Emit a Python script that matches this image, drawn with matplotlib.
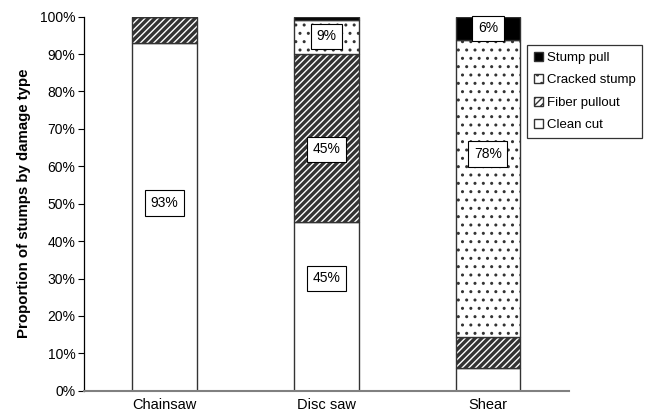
import matplotlib
matplotlib.use("Agg")
import matplotlib.pyplot as plt
import numpy as np

plt.rcParams['font.family'] = ['Liberation Sans', 'DejaVu Sans']
plt.rcParams['hatch.color'] = 'black'

# Damage-type shares (percent) per cutting method
methods = ["Chainsaw", "Disc saw", "Shear"]
clean_cut = [93, 45, 6]
fiber_pullout = [7, 45, 8]
cracked_stump = [0, 9, 78]
stump_pull = [0, 1, 6]

series_names = ["Clean cut", "Fiber pullout", "Cracked stump", "Stump pull"]
y_ticks = [0, 10, 20, 30, 40, 50, 60, 70, 80, 90, 100]

# Boxed value labels: (method index, series index, label height in % of axis)
box_labels = [
    (0, 0, 50.2),
    (1, 0, 30.0),
    (1, 1, 64.6),
    (1, 2, 94.8),
    (2, 2, 63.3),
    (2, 3, 96.9),
]

data = np.array([clean_cut, fiber_pullout, cracked_stump, stump_pull], dtype=float)
shares = data / data.sum(axis=0) * 100  # 100% stacked columns

styles = [
    dict(facecolor="white", hatch=None, hlw=1.0),
    dict(facecolor="white", hatch="/////", hlw=2.4),
    dict(facecolor="white", hatch="..", hlw=1.0),
    dict(facecolor="black", hatch=None, hlw=1.0),
]

fig = plt.figure(figsize=(6.48, 4.17), dpi=100)
ax = fig.add_axes([83.6 / 648, (417 - 390.7) / 417, (568.8 - 83.6) / 648, 374 / 417])

x = np.arange(len(methods))
bottom = np.zeros(len(methods))
handles = []
for i, name in enumerate(series_names):
    st = styles[i]
    plt.rcParams['hatch.linewidth'] = st["hlw"]
    bars = ax.bar(x, shares[i], 0.4, bottom=bottom, facecolor=st["facecolor"],
                  hatch=st["hatch"], edgecolor="#333333", linewidth=1.0,
                  label=name, zorder=2)
    handles.append(bars)
    bottom += shares[i]

for mi, si, ypos in box_labels:
    ax.text(x[mi], ypos, f"{data[si, mi]:.0f}%", ha="center", va="center",
            fontsize=10, zorder=5,
            bbox=dict(boxstyle="square,pad=0.4", facecolor="white",
                      edgecolor="black", linewidth=0.8))

ax.set_xlim(-0.5, len(methods) - 0.5)
ax.set_ylim(0, 100)
ax.set_yticks(y_ticks)
ax.set_yticklabels([f"{t}%" for t in y_ticks])
ax.set_xticks(x)
ax.set_xticklabels(methods)
ax.tick_params(axis="y", length=4, width=0.8, labelsize=10, pad=2)
ax.tick_params(axis="x", length=0, labelsize=10.5, pad=5)
ax.spines["top"].set_visible(False)
ax.spines["right"].set_visible(False)
ax.spines["left"].set_color("black")
ax.spines["left"].set_linewidth(0.9)
ax.spines["bottom"].set_color("#808080")
ax.spines["bottom"].set_linewidth(1.5)
ax.set_ylabel("Proportion of stumps by damage type", fontsize=10.8, fontweight="bold", labelpad=6)

leg = ax.legend(handles[::-1], series_names[::-1], loc="upper left",
                bbox_to_anchor=(527 / 648, 1 - 45 / 417), bbox_transform=fig.transFigure,
                fontsize=9.5, frameon=True, fancybox=False, edgecolor="black",
                handlelength=0.7, handleheight=0.7, handletextpad=0.3,
                borderpad=0.5, labelspacing=0.78, borderaxespad=0)
leg.get_frame().set_linewidth(0.9)

fig.savefig("out.png", dpi=100)
